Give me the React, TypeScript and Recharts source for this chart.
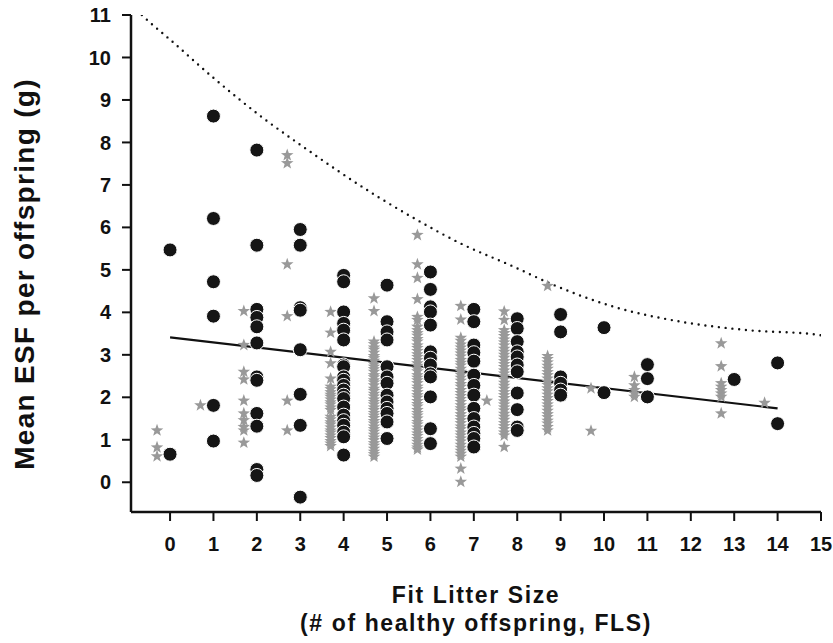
import { ComposedChart, Scatter, Line, XAxis, YAxis } from 'recharts';

document.body.style.margin = '0';

// black circles: one column per fit litter size
const circleX = [0, 1, 2, 3, 4, 5, 6, 7, 8, 9, 10, 11, 13, 14];
const circleY: number[][] = [
  [5.47, 0.66],
  [8.62, 6.21, 4.72, 3.91, 1.81, 0.97],
  [7.82, 5.58, 4.07, 3.88, 3.66, 3.28, 2.48, 2.4, 1.62, 1.32, 0.3, 0.16],
  [5.95, 5.58, 4.11, 4.05, 3.12, 2.07, 1.34, -0.35],
  [4.87, 4.72, 4.01, 3.74, 3.58, 3.35, 2.76, 2.72, 2.48, 2.4, 2.28, 2.17, 2.05, 1.97, 1.77, 1.58, 1.45, 1.34, 1.18, 1.07, 0.64],
  [4.64, 3.78, 3.54, 3.35, 2.72, 2.48, 2.33, 2.05, 1.89, 1.74, 1.62, 1.42, 1.03],
  [4.95, 4.54, 4.13, 4.01, 3.7, 3.07, 2.92, 2.76, 2.55, 2.48, 2.01, 1.26, 0.91],
  [4.07, 3.78, 3.23, 3.05, 2.85, 2.52, 2.28, 2.05, 1.74, 1.5, 1.3, 1.15, 1.03, 0.83],
  [3.85, 3.62, 3.31, 3.07, 2.95, 2.76, 2.6, 2.1, 1.71, 1.3, 1.22],
  [3.95, 3.54, 2.48, 2.33, 2.17, 2.05],
  [3.64, 2.11],
  [2.77, 2.44, 2.01],
  [2.42],
  [2.81, 1.38],
];

// grey stars, plotted just left of each column
const starX = [-0.3, 0.7, 1.7, 2.7, 3.7, 4.7, 5.7, 6.7, 7.3, 7.7, 8.7, 9.7, 10.7, 12.7, 13.7];
const starY: number[][] = [
  [1.22, 0.82, 0.61],
  [1.81],
  [4.03, 3.23, 2.6, 2.42, 1.92, 1.62, 1.46, 1.3, 1.22, 0.93],
  [7.7, 7.51, 5.13, 3.91, 1.92, 1.22],
  [4.01, 3.52, 3.07, 2.8, 2.44, 2.25, 2.19, 2.12, 2.06, 2.01, 1.95, 1.88, 1.83, 1.76, 1.7, 1.54, 1.48, 1.41, 1.36, 1.29, 1.22, 1.17, 1.1, 1.04, 0.97, 0.91, 0.85],
  [4.33, 4.03, 3.31, 3.25, 3.17, 3.12, 3.05, 2.97, 2.92, 2.86, 2.78, 2.72, 2.66, 2.6, 2.52, 2.47, 2.4, 2.35, 2.28, 2.2, 2.15, 2.08, 2.02, 1.95, 1.89, 1.83, 1.76, 1.7, 1.63, 1.57, 1.51, 1.44, 1.38, 1.31, 1.25, 1.19, 1.12, 1.05, 0.99, 0.92, 0.86, 0.79, 0.72, 0.66, 0.6],
  [5.82, 5.13, 4.81, 4.31, 3.89, 3.82, 3.66, 3.58, 3.51, 3.45, 3.37, 3.31, 3.22, 3.16, 3.09, 3.01, 2.95, 2.88, 2.8, 2.74, 2.67, 2.61, 2.52, 2.46, 2.4, 2.33, 2.25, 2.19, 2.12, 2.05, 1.99, 1.91, 1.84, 1.78, 1.7, 1.63, 1.57, 1.5, 1.42, 1.36, 1.29, 1.22, 1.15, 1.09, 1.02, 0.95, 0.88, 0.82, 0.77],
  [4.15, 3.83, 3.4, 3.33, 3.24, 3.17, 3.1, 3.03, 2.96, 2.88, 2.81, 2.75, 2.67, 2.6, 2.53, 2.46, 2.39, 2.31, 2.25, 2.17, 2.1, 2.03, 1.96, 1.89, 1.81, 1.74, 1.68, 1.6, 1.53, 1.46, 1.39, 1.31, 1.25, 1.17, 1.1, 1.03, 0.96, 0.88, 0.81, 0.74, 0.67, 0.6, 0.32, 0.01],
  [1.92],
  [4.02, 3.82, 3.58, 3.51, 3.44, 3.36, 3.29, 3.22, 3.14, 3.07, 3.0, 2.93, 2.85, 2.78, 2.71, 2.63, 2.56, 2.49, 2.42, 2.34, 2.27, 2.2, 2.12, 2.05, 1.98, 1.9, 1.83, 1.76, 1.69, 1.61, 1.54, 1.47, 1.39, 1.32, 1.25, 1.17, 1.1, 0.83],
  [4.62, 2.97, 2.9, 2.82, 2.74, 2.67, 2.59, 2.52, 2.44, 2.36, 2.29, 2.21, 2.14, 2.06, 1.98, 1.91, 1.83, 1.76, 1.68, 1.6, 1.53, 1.45, 1.38, 1.3, 1.22],
  [2.21, 1.21],
  [2.48, 2.28, 2.17, 2.09, 2.01],
  [3.27, 2.73, 2.33, 2.25, 2.17, 2.09, 2.01, 1.62],
  [1.87],
];

// regression line
const fitX = [0, 14];
const fitY = [3.41, 1.74];

// dotted upper boundary
const boundX = [-0.65, -0.48, 0, 1, 2.15, 2.98, 4.79, 5.7, 6.62, 7.93, 8.85, 10.23, 11.77, 13.32, 14.86, 15];
const boundY = [11.0, 10.84, 10.42, 9.52, 8.57, 7.96, 6.72, 6.17, 5.66, 5.07, 4.64, 4.13, 3.78, 3.58, 3.48, 3.46];

const xTicks = [0, 1, 2, 3, 4, 5, 6, 7, 8, 9, 10, 11, 12, 13, 14, 15];
const yTicks = [0, 1, 2, 3, 4, 5, 6, 7, 8, 9, 10, 11];

const toPoints = (xs: number[], ys: number[][]) =>
  xs.flatMap((x, i) => ys[i].map(y => ({ x, y })));

const circles = toPoints(circleX, circleY);
const stars = toPoints(starX, starY);
const fit = fitX.map((x, i) => ({ x, y: fitY[i] }));
const bound = boundX.map((x, i) => ({ x, y: boundY[i] }));

const font = '"Liberation Sans", Arial, Helvetica, sans-serif';
const tickStyle = { fontSize: 20, fontWeight: 'bold', fill: '#111', fontFamily: font };
const axisStyle = { stroke: '#111', strokeWidth: 2.5 };

const Dot = (props: any) => (
  <circle cx={props.cx} cy={props.cy} r={7} fill="#151515" stroke="#fff" strokeWidth={1} />
);

const Star = (props: any) => {
  const { cx, cy } = props;
  const pts: string[] = [];
  for (let i = 0; i < 10; i++) {
    const r = i % 2 === 0 ? 6.6 : 2.7;
    const a = -Math.PI / 2 + (i * Math.PI) / 5;
    pts.push(`${cx + r * Math.cos(a)},${cy + r * Math.sin(a)}`);
  }
  return <polygon points={pts.join(' ')} fill="#999" />;
};

export default function App() {
  return (
    <div style={{ position: 'relative', width: 833, height: 643 }}>
      <ComposedChart width={833} height={643} margin={{ top: 15, right: 12, bottom: 0, left: 0 }}>
        <XAxis
          dataKey="x"
          type="number"
          domain={[-0.9, 15]}
          allowDataOverflow
          ticks={xTicks}
          interval={0}
          height={131}
          tickSize={9}
          tickMargin={16}
          tick={tickStyle}
          axisLine={axisStyle}
          tickLine={{ stroke: '#111', strokeWidth: 2 }}
        />
        <XAxis xAxisId="top" orientation="top" type="number" domain={[-0.9, 15]} height={0} tick={false} tickLine={false} axisLine={axisStyle} />
        <YAxis
          dataKey="y"
          type="number"
          domain={[-0.7, 11]}
          allowDataOverflow
          ticks={yTicks}
          interval={0}
          width={131}
          tickSize={9}
          tickMargin={11}
          tick={tickStyle}
          axisLine={axisStyle}
          tickLine={{ stroke: '#111', strokeWidth: 2 }}
        />
        <YAxis yAxisId="right" orientation="right" type="number" domain={[-0.7, 11]} width={0} tick={false} tickLine={false} axisLine={axisStyle} />
        <Scatter data={stars} dataKey="y" shape={Star} isAnimationActive={false} />
        <Line data={fit} dataKey="y" type="linear" stroke="#111" strokeWidth={2.2} dot={false} activeDot={false} isAnimationActive={false} />
        <Scatter data={circles} dataKey="y" shape={Dot} isAnimationActive={false} />
        <Line
          data={bound}
          dataKey="y"
          type="monotone"
          stroke="#111"
          strokeWidth={2.4}
          strokeDasharray="0 6.8"
          strokeLinecap="round"
          dot={false}
          activeDot={false}
          isAnimationActive={false}
        />
      </ComposedChart>
      <svg width={833} height={643} style={{ position: 'absolute', left: 0, top: 0, pointerEvents: 'none' }}>
        <g fontFamily={font} fontWeight="bold" fill="#111">
          <text transform="translate(34,274) rotate(-90)" textAnchor="middle" fontSize={28} letterSpacing={1.3}>
            Mean ESF per offspring (g)
          </text>
          <text x={476} y={603} textAnchor="middle" fontSize={23} letterSpacing={1.6}>
            Fit Litter Size
          </text>
          <text x={476} y={631} textAnchor="middle" fontSize={23} letterSpacing={1.6}>
            (# of healthy offspring, FLS)
          </text>
        </g>
      </svg>
    </div>
  );
}
